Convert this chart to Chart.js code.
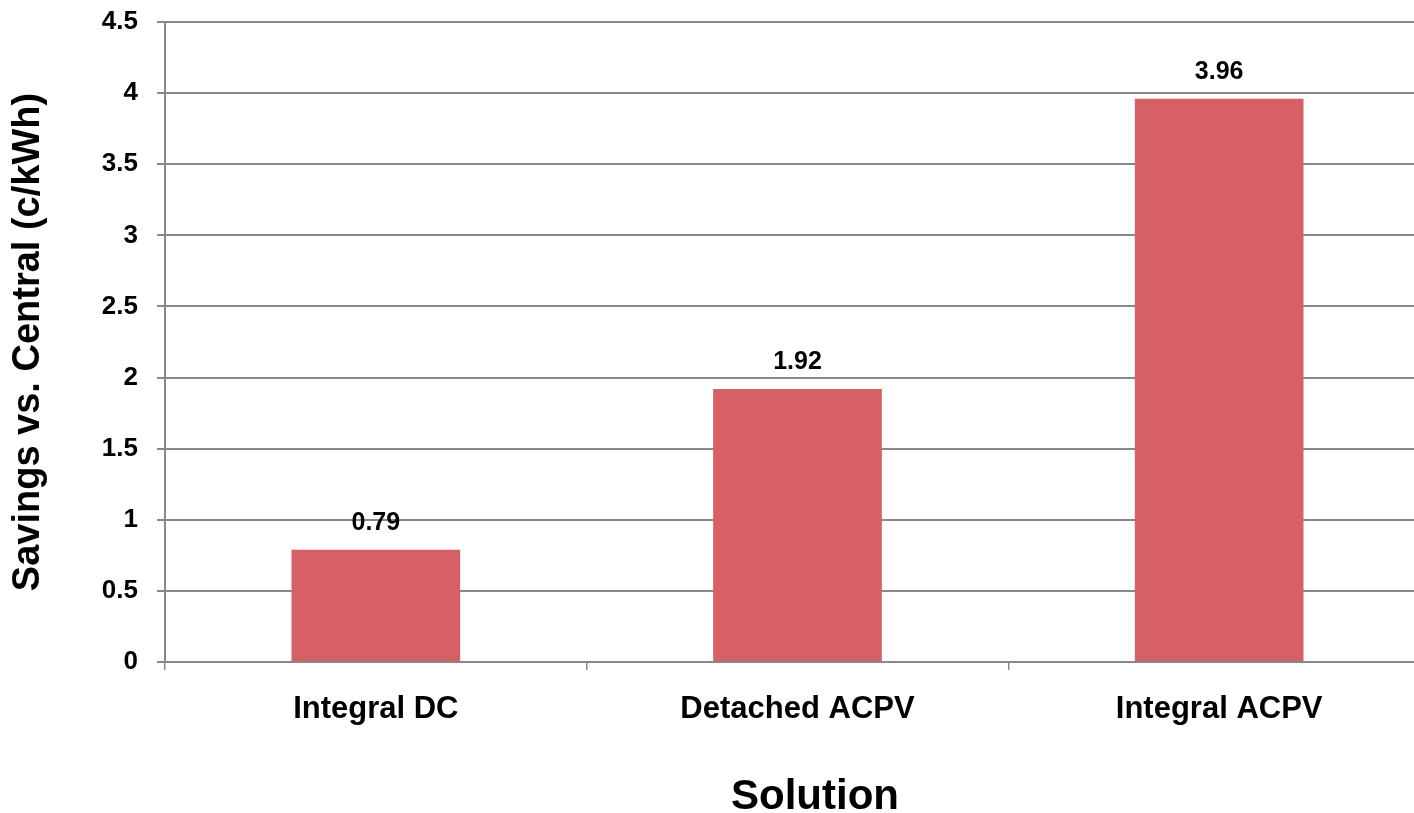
<!DOCTYPE html>
<html>
<head>
<meta charset="utf-8">
<script src="https://cdn.jsdelivr.net/npm/chart.js@4/dist/chart.umd.min.js"></script>
<style>
  html, body { margin: 0; padding: 0; background: #fff; overflow: hidden; }
  #wrap { width: 1430px; height: 830px; }
</style>
</head>
<body>
<div id="wrap"><canvas id="chart" width="1430" height="830"></canvas></div>
<script>
// 数据
const categories = ['Integral DC', 'Detached ACPV', 'Integral ACPV'];
const savings = [0.79, 1.92, 3.96];
const yTicks = [0, 0.5, 1, 1.5, 2, 2.5, 3, 3.5, 4, 4.5];

const FONT = 'Arial, "Liberation Sans", sans-serif';
const GRID = '#888888';

// 柱顶数值标签
const valueLabels = {
    id: 'valueLabels',
    afterDatasetsDraw(chart) {
        const ctx = chart.ctx;
        const meta = chart.getDatasetMeta(0);
        ctx.save();
        ctx.font = 'bold 25px ' + FONT;
        ctx.fillStyle = '#000';
        ctx.textAlign = 'center';
        ctx.textBaseline = 'middle';
        meta.data.forEach((bar, i) => {
            ctx.fillText(savings[i].toFixed(2), bar.x, bar.y - 27);
        });
        ctx.restore();
    }
};

// X 轴标题（原图中略偏右，不在绘图区正中）
const xTitle = {
    id: 'xTitle',
    afterDraw(chart) {
        const ctx = chart.ctx;
        ctx.save();
        ctx.font = 'bold 42px ' + FONT;
        ctx.fillStyle = '#000';
        ctx.textAlign = 'center';
        ctx.textBaseline = 'middle';
        ctx.fillText('Solution', 815, 797);
        ctx.restore();
    }
};

new Chart(document.getElementById('chart'), {
    type: 'bar',
    data: {
        labels: categories,
        datasets: [{
            data: savings,
            backgroundColor: '#D66066',
            borderWidth: 0,
            categoryPercentage: 1.0,
            barPercentage: 0.4
        }]
    },
    options: {
        responsive: false,
        animation: false,
        devicePixelRatio: 1,
        layout: { padding: { top: 22, left: 0, right: 0, bottom: 0 } },
        plugins: {
            legend: { display: false },
            tooltip: { enabled: false }
        },
        scales: {
            x: {
                offset: true,
                grid: {
                    offset: true,
                    drawOnChartArea: false,
                    drawTicks: true,
                    tickLength: 8,
                    color: GRID,
                    lineWidth: 1.5
                },
                border: { display: false },
                ticks: {
                    color: '#000',
                    font: { family: FONT, size: 31, weight: 'bold' },
                    padding: 21,
                    maxRotation: 0
                },
                title: { display: false },
                afterFit: s => { s.height = 830 - 662; }
            },
            y: {
                min: 0,
                max: 4.5,
                afterBuildTicks: s => { s.ticks = yTicks.map(v => ({ value: v })); },
                grid: {
                    color: GRID,
                    lineWidth: 2,
                    tickLength: 8
                },
                border: { color: GRID, width: 2 },
                ticks: {
                    color: '#000',
                    font: { family: FONT, size: 26, weight: 'bold' },
                    padding: 19,
                    callback: v => String(v)
                },
                title: {
                    display: true,
                    text: 'Savings vs. Central (c/kWh)',
                    color: '#000',
                    font: { family: FONT, size: 38, weight: 'bold' },
                    padding: { top: 6, bottom: 10 }
                },
                afterFit: s => {
                    s.width = 165;
                    s.paddingTop = 0;
                    s.paddingBottom = 0;
                }
            }
        }
    },
    plugins: [valueLabels, xTitle]
});
</script>
</body>
</html>
